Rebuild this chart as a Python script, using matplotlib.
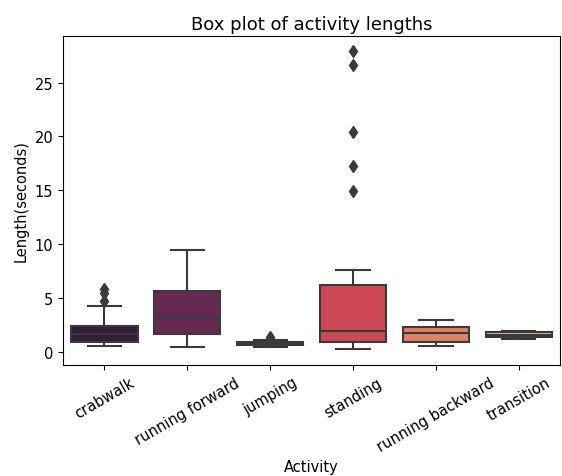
import matplotlib
matplotlib.use("Agg")
import matplotlib.pyplot as plt
import seaborn as sns

activities = ["crabwalk", "running forward", "jumping", "standing",
              "running backward", "transition"]
whislo = [0.58, 0.43, 0.45, 0.28, 0.58, 1.2]
q1 = [0.95, 1.67, 0.6, 0.9, 0.95, 1.36]
med = [1.67, 3.2, 0.75, 1.97, 1.76, 1.6]
q3 = [2.43, 5.62, 0.9, 6.2, 2.28, 1.88]
whishi = [4.23, 9.5, 1.1, 7.6, 2.96, 1.9]
fliers = [[4.75, 5.5, 5.8], [], [1.2, 1.35], [14.9, 17.3, 20.4, 26.6, 27.9], [], []]

stats = []
for i, name in enumerate(activities):
    stats.append(dict(label=name, whislo=whislo[i], q1=q1[i], med=med[i],
                      q3=q3[i], whishi=whishi[i], fliers=fliers[i]))

colors = [sns.desaturate(c, 0.75) for c in sns.color_palette("rocket", 6)]
line_color = "#3a3a3a"

fig = plt.figure(figsize=(5.62, 4.77), dpi=100)
ax = fig.add_axes([0.112, 0.233, 0.885, 0.689])

bp = ax.bxp(stats, positions=range(len(activities)), widths=0.8,
            patch_artist=True,
            boxprops=dict(edgecolor=line_color, linewidth=1.5),
            whiskerprops=dict(color=line_color, linewidth=1.5),
            capprops=dict(color=line_color, linewidth=1.5),
            medianprops=dict(color=line_color, linewidth=1.5),
            flierprops=dict(marker="d", markerfacecolor=line_color,
                            markeredgecolor=line_color, markersize=6))
for patch, c in zip(bp["boxes"], colors):
    patch.set_facecolor(c)

ax.set_xlim(-0.5, len(activities) - 0.5)
ax.set_ylim(-1.2, 29.3)
ax.set_yticks([0, 5, 10, 15, 20, 25])
ax.set_xticks(range(len(activities)))
ax.set_xticklabels(activities, rotation=30, fontsize=10.5)
ax.tick_params(axis="y", labelsize=10.5)
ax.set_xlabel("Activity", fontsize=10.5)
ax.set_ylabel("Length(seconds)", fontsize=10.5)
ax.set_title("Box plot of activity lengths", fontsize=13, pad=5)

fig.savefig("out.png", dpi=100)
